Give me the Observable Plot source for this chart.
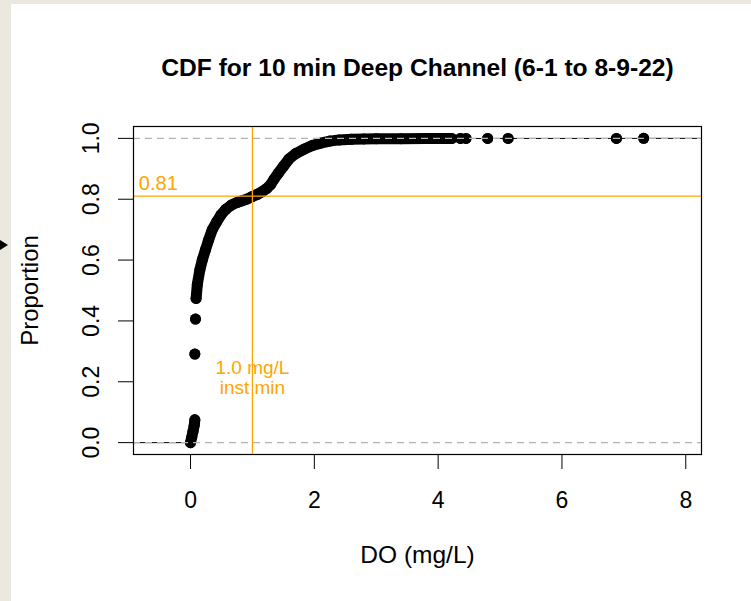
<!DOCTYPE html>
<html><head><meta charset="utf-8">
<script src="https://cdn.jsdelivr.net/npm/d3@7"></script>
<script src="https://cdn.jsdelivr.net/npm/@observablehq/plot@0.6"></script>
<style>
html,body{margin:0;padding:0;background:#ebe8e0;width:751px;height:601px;overflow:hidden;}
#panel{position:absolute;left:11px;top:4px;width:740px;height:597px;background:#fff;}
#arrow{position:absolute;left:0;top:240px;width:0;height:0;border-top:5px solid transparent;border-bottom:5px solid transparent;border-left:8px solid #000;}
</style></head><body>
<div id="arrow"></div>
<div id="panel"></div>
<script>
// ---- text ----
const titleText = "CDF for 10 min Deep Channel (6-1 to 8-9-22)";
const xLabel = "DO (mg/L)";
const yLabel = "Proportion";
const refLabelY = "0.81";
const refLabelX = "1.0 mg/L\ninst min";
// ---- axes ----
const xTicks = [0, 2, 4, 6, 8];
const yTicks = [0, 0.2, 0.4, 0.6, 0.8, 1.0];
const xDomain = [-0.921, 8.254];
const yDomain = [-0.039, 1.039];
// ---- reference lines ----
const refProportion = [0.81];
const refDO = [1.0];
const refLabelYPos = [-0.52, 0.852];
const refLabelXPos = [1.0, 0.215];
// ---- ECDF points (DO mg/L, proportion, run id) ----
const doValues = [
  0.00, 0.02, 0.04, 0.06, 0.07,
  0.07,
  0.08,
  0.09, 0.11, 0.15, 0.19, 0.24, 0.29, 0.35, 0.42, 0.49, 0.57, 0.66, 0.75, 0.835, 0.92,
  1.00, 1.08, 1.16, 1.23, 1.29, 1.35, 1.42, 1.50, 1.59, 1.70, 1.83, 1.96, 2.10, 2.25,
  2.40, 2.60, 2.80, 3.00, 3.40, 3.80, 4.10, 4.22,
  4.36, 4.45, 4.80, 5.13, 6.88, 7.32
];
const propValues = [
  0.000, 0.018, 0.037, 0.057, 0.075,
  0.291,
  0.406,
  0.474, 0.520, 0.567, 0.600, 0.633, 0.665, 0.699, 0.725, 0.748, 0.767, 0.781, 0.789, 0.795, 0.801,
  0.809, 0.816, 0.825, 0.835, 0.847, 0.866, 0.886, 0.908, 0.932, 0.950, 0.964, 0.976, 0.984, 0.991,
  0.995, 0.997, 0.998, 0.9985, 0.999, 0.9993, 0.9995, 0.9996,
  0.9997, 0.9997, 0.9998, 0.9998, 0.9999, 1.000
];
const runIds = [
  "a","a","a","a","a",
  "b",
  "c",
  "d","d","d","d","d","d","d","d","d","d","d","d","d","d",
  "d","d","d","d","d","d","d","d","d","d","d","d","d","d",
  "d","d","d","d","d","d","d","d",
  "e","f","g","h","i","j"
];

const points = doValues.map((x, i) => ({x, y: propValues[i], run: runIds[i]}));
const steps = [{x1: xDomain[0], x2: points[0].x, y: 0}].concat(
  points.map((p, i) => ({x1: p.x, x2: i < points.length - 1 ? points[i + 1].x : xDomain[1], y: p.y}))
);

const orange = "#FFA500";
const font = "'Liberation Sans', Arial, Helvetica, sans-serif";

const chart = Plot.plot({
  width: 740,
  height: 597,
  marginLeft: 122,
  marginRight: 50,
  marginTop: 122,
  marginBottom: 147,
  style: {fontFamily: font, background: "white", color: "black", overflow: "visible"},
  x: {domain: xDomain, axis: null},
  y: {domain: yDomain, axis: null},
  marks: [
    Plot.ruleY(steps, {y: "y", x1: "x1", x2: "x2", stroke: "black", strokeWidth: 1}),
    Plot.line(points, {x: "x", y: "y", z: "run", stroke: "black", strokeWidth: 11, strokeLinecap: "round", strokeLinejoin: "round"}),
    Plot.dot(points, {x: "x", y: "y", r: 5.5, fill: "black"}),
    Plot.ruleY([0, 1], {stroke: "#b3b3b3", strokeWidth: 1.3, strokeDasharray: "7,5"}),
    Plot.ruleY(refProportion, {stroke: orange, strokeWidth: 1.3}),
    Plot.ruleX(refDO, {stroke: orange, strokeWidth: 1.3}),
    Plot.text([refLabelY], {x: () => refLabelYPos[0], y: () => refLabelYPos[1], text: d => d, fill: orange, fontSize: 20}),
    Plot.text([refLabelX], {x: () => refLabelXPos[0], y: () => refLabelXPos[1], text: d => d, fill: orange, fontSize: 19, lineHeight: 1.08}),
    Plot.axisX({ticks: xTicks, tickSize: 15, tickPadding: 22.5, fontSize: 23, label: null, tickFormat: d3.format("d")}),
    Plot.axisY({ticks: yTicks, tickSize: 15, tickRotate: -90, tickPadding: 19.5, fontSize: 23, label: null, tickFormat: d3.format(".1f")}),
    Plot.frame({stroke: "black", strokeWidth: 1.2}),
    Plot.text([titleText], {frameAnchor: "top", dy: -67.5, text: d => d, fontSize: 24.6, fontWeight: "bold"}),
    Plot.text([xLabel], {frameAnchor: "bottom", dy: 108, text: d => d, fontSize: 24.5}),
    Plot.text([yLabel], {frameAnchor: "left", textAnchor: "middle", dx: -103, rotate: -90, text: d => d, fontSize: 24})
  ]
});
document.getElementById("panel").appendChild(chart);
</script>
</body></html>
